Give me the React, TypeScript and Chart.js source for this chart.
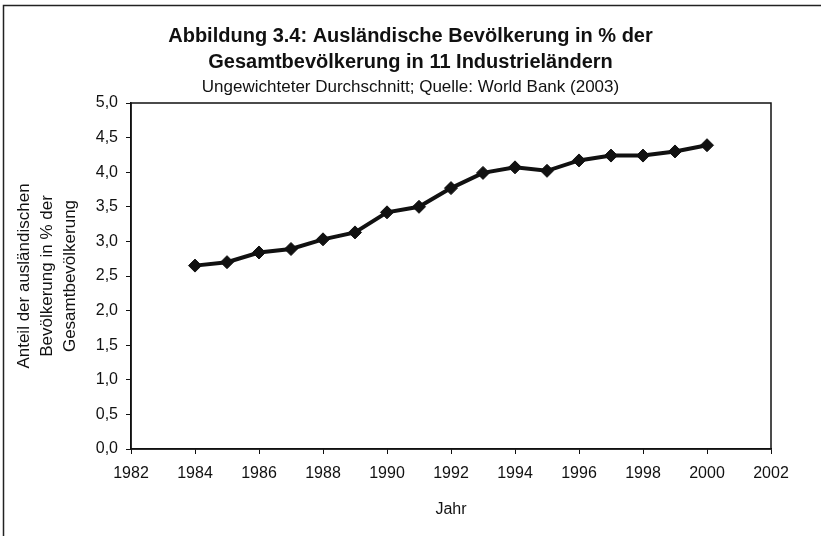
import React, { useEffect, useRef } from "react";
import { Chart, registerables } from "chart.js";

Chart.register(...registerables);

const years = [1984, 1985, 1986, 1987, 1988, 1989, 1990, 1991, 1992, 1993, 1994, 1995, 1996, 1997, 1998, 1999, 2000];
const shares = [2.65, 2.70, 2.84, 2.89, 3.03, 3.13, 3.42, 3.50, 3.77, 3.99, 4.07, 4.02, 4.17, 4.24, 4.24, 4.30, 4.39];

const titleLines = [
  "Abbildung 3.4: Ausländische Bevölkerung in % der",
  "Gesamtbevölkerung in 11 Industrieländern",
];
const subtitleText = "Ungewichteter Durchschnitt; Quelle: World Bank (2003)";
const yTitleLines = ["Anteil der ausländischen", "Bevölkerung in % der", "Gesamtbevölkerung"];
const xTitleText = "Jahr";
const xMin = 1982, xMax = 2002, xStep = 2;
const yMin = 0, yMax = 5, yStep = 0.5;

const FONT = "'Liberation Sans', Arial, sans-serif";
const INK = "#111";

const framePlugin = {
  id: "frame",
  beforeDatasetsDraw(chart: any) {
    const { ctx, chartArea } = chart;
    ctx.save();
    ctx.strokeStyle = INK;
    ctx.lineWidth = 1.5;
    ctx.strokeRect(chartArea.left, chartArea.top, chartArea.right - chartArea.left, chartArea.bottom - chartArea.top);
    ctx.restore();
  },
  afterDraw(chart: any) {
    const { ctx, width, height } = chart;
    ctx.save();
    ctx.strokeStyle = "#222";
    ctx.lineWidth = 1.5;
    ctx.beginPath();
    ctx.moveTo(3.5, height + 5);
    ctx.lineTo(3.5, 5.5);
    ctx.lineTo(width + 5, 5.5);
    ctx.stroke();
    ctx.restore();
  },
};

export default function App() {
  const ref = useRef<HTMLCanvasElement | null>(null);
  useEffect(() => {
    if (!ref.current) return;
    const chart = new Chart(ref.current, {
      type: "line",
      data: {
        datasets: [
          {
            data: years.map((y, i) => ({ x: y, y: shares[i] })),
            borderColor: INK,
            backgroundColor: INK,
            borderWidth: 4,
            pointStyle: "rectRot",
            pointRadius: 6.5,
            pointBackgroundColor: INK,
            pointBorderColor: INK,
            pointBorderWidth: 1,
            tension: 0,
          },
        ],
      },
      options: {
        responsive: false,
        animation: false,
        layout: { padding: { top: 0, left: 0, right: 0, bottom: 0 } },
        plugins: {
          legend: { display: false },
          tooltip: { enabled: false },
          title: {
            display: true,
            text: titleLines,
            color: INK,
            font: { family: FONT, size: 20, weight: "bold", lineHeight: "26px" },
            padding: { top: 23, bottom: 0 },
          },
          subtitle: {
            display: true,
            text: subtitleText,
            color: INK,
            font: { family: FONT, size: 17, lineHeight: "20px" },
            padding: { top: 2, bottom: 6 },
          },
        },
        scales: {
          x: {
            type: "linear",
            min: xMin,
            max: xMax,
            afterFit(scale: any) {
              scale.height = 87;
            },
            ticks: {
              stepSize: xStep,
              color: INK,
              font: { family: FONT, size: 16 },
              padding: 10,
              callback: (v: any) => String(v),
            },
            grid: { display: true, drawOnChartArea: false, drawTicks: true, tickLength: 5, color: INK },
            border: { display: true, color: INK, width: 1.5 },
            title: {
              display: true,
              text: xTitleText,
              color: INK,
              font: { family: FONT, size: 16, lineHeight: "18px" },
              padding: { top: 0, bottom: 17 },
            },
          },
          y: {
            type: "linear",
            min: yMin,
            max: yMax,
            afterFit(scale: any) {
              scale.width = 131;
            },
            ticks: {
              stepSize: yStep,
              color: INK,
              font: { family: FONT, size: 16 },
              padding: 8,
              callback: (v: any) => Number(v).toFixed(1).replace(".", ","),
            },
            grid: { display: true, drawOnChartArea: false, drawTicks: true, tickLength: 5, color: INK },
            border: { display: true, color: INK, width: 1.5 },
            title: {
              display: true,
              text: yTitleLines,
              color: INK,
              font: { family: FONT, size: 17, lineHeight: "23px" },
              padding: { top: 13, bottom: 0 },
            },
          },
          yRight: {
            type: "linear",
            position: "right",
            display: true,
            afterFit(scale: any) {
              scale.width = 50;
            },
            ticks: { display: false },
            grid: { display: false },
            border: { display: false },
          },
        },
      },
      plugins: [framePlugin],
    } as any);
    return () => chart.destroy();
  }, []);
  return (
    <div style={{ position: "absolute", left: 0, top: 0, width: 821, height: 536, background: "#fff" }}>
      <canvas ref={ref} width={821} height={536} style={{ display: "block" }} />
    </div>
  );
}
